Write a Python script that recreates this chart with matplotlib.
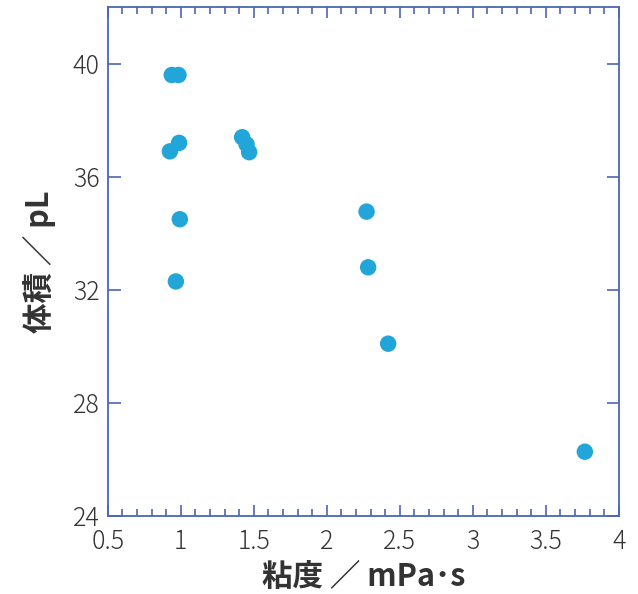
import matplotlib
matplotlib.use("Agg")
import matplotlib.pyplot as plt
from matplotlib.ticker import MultipleLocator

plt.rcParams['font.family'] = ['Noto Sans CJK JP', 'DejaVu Sans']

# viscosity (mPa·s) vs droplet volume (pL)
viscosity = [0.938, 0.984, 0.925, 0.988, 0.993, 0.966,
             1.42, 1.45, 1.468, 2.272, 2.283, 2.42, 3.767]
volume = [39.6, 39.6, 36.9, 37.2, 34.5, 32.3,
          37.4, 37.15, 36.87, 34.77, 32.8, 30.1, 26.28]

x_ticks = [0.5, 1, 1.5, 2, 2.5, 3, 3.5, 4]
x_ticklabels = ['0.5', '1', '1.5', '2', '2.5', '3', '3.5', '4']
y_ticks = [24, 28, 32, 36, 40]

axis_col = '#4a66b5'
text_col = '#333333'

fig = plt.figure(figsize=(6.38, 5.94), dpi=100)
ax = fig.add_axes([0.169, 0.131, 0.801, 0.857])

ax.scatter(viscosity, volume, s=140, color='#22a5d8', edgecolors='none', zorder=3)

ax.set_xlim(0.5, 4)
ax.set_ylim(24, 42)
ax.set_xticks(x_ticks)
ax.set_xticklabels(x_ticklabels)
ax.set_yticks(y_ticks)
ax.xaxis.set_minor_locator(MultipleLocator(0.1))

for sp in ax.spines.values():
    sp.set_color(axis_col)
    sp.set_linewidth(1.3)

ax.tick_params(axis='both', which='both', direction='in', colors=axis_col,
               labelcolor=text_col, labelsize=18, top=True, right=True)
ax.tick_params(axis='x', which='major', length=8, width=1.2, pad=9)
ax.tick_params(axis='x', which='minor', length=5, width=1.2)
ax.tick_params(axis='y', which='major', length=9, width=1.2, pad=6)
for lab in ax.get_xticklabels() + ax.get_yticklabels():
    lab.set_fontweight('light')

ax.set_xlabel('粘度 ／ mPa\uff65s', fontsize=22, fontweight='bold', color=text_col, labelpad=4)
ax.set_ylabel('体積 ／ pL', fontsize=22, fontweight='bold', color=text_col, labelpad=12)

fig.savefig('out.png', dpi=100)
